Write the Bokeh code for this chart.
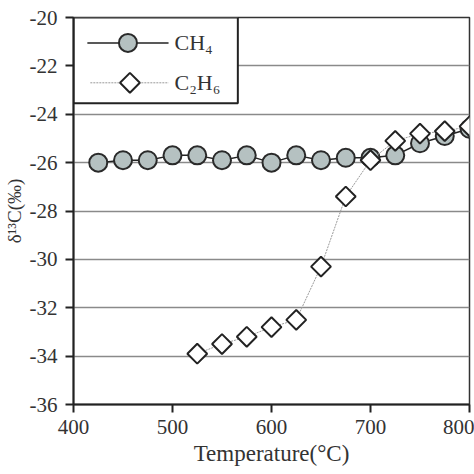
import numpy as np
from bokeh.plotting import figure
from bokeh.models import Range1d, FixedTicker, PrintfTickFormatter, BoxAnnotation, Label
from bokeh.embed import file_html
from bokeh.resources import INLINE

# values
temp_ch4 = [425, 450, 475, 500, 525, 550, 575, 600, 625, 650, 675, 700, 725, 750, 775, 800]
d13c_ch4 = [-26.0, -25.9, -25.9, -25.7, -25.7, -25.9, -25.7, -26.0, -25.7, -25.9, -25.8, -25.8, -25.7, -25.2, -24.9, -24.6]

temp_c2h6 = [525, 550, 575, 600, 625, 650, 675, 700, 725, 750, 775, 800]
d13c_c2h6 = [-33.9, -33.5, -33.2, -32.8, -32.5, -30.3, -27.4, -25.9, -25.1, -24.8, -24.7, -24.5]

x_ticks = [400, 500, 600, 700, 800]
y_ticks = [-36, -34, -32, -30, -28, -26, -24, -22, -20]
series_names = ["CH₄", "C₂H₆"]

FONT = "Liberation Serif"
CH4_STYLE = dict(marker="circle", size=18, fill_color="#b5c1c1", line_color="#2a2a2a", line_width=2)
C2H6_STYLE = dict(marker="square", angle=np.pi / 4, size=14, fill_color="white",
                  line_color="#222222", line_width=2)

p = figure(width=474, height=474, output_backend="svg", toolbar_location=None,
           x_range=Range1d(400, 800), y_range=Range1d(-36, -20),
           min_border_left=73, min_border_top=17, min_border_right=5, min_border_bottom=70)
p.background_fill_color = "white"
p.border_fill_color = "white"
p.outline_line_color = "#333333"
p.outline_line_width = 1.5

p.xgrid.grid_line_color = None
p.ygrid.grid_line_color = "#8a8a8a"
p.ygrid.grid_line_width = 1.5

p.xaxis.ticker = FixedTicker(ticks=x_ticks)
p.yaxis.ticker = FixedTicker(ticks=y_ticks)
p.yaxis.formatter = PrintfTickFormatter(format="%d")
for ax in (p.xaxis, p.yaxis):
    ax.axis_line_color = "#222222"
    ax.axis_line_width = 2
    ax.major_tick_line_color = "#222222"
    ax.major_tick_line_width = 2
    ax.major_tick_in = 0
    ax.major_tick_out = 8
    ax.minor_tick_line_color = None
    ax.major_label_text_font = FONT
    ax.major_label_text_font_size = "21px"
    ax.major_label_text_color = "#333333"
    ax.axis_label_text_font = FONT
    ax.axis_label_text_font_size = "23px"
    ax.axis_label_text_font_style = "normal"
    ax.axis_label_text_color = "#333333"

p.xaxis.axis_label = "Temperature(°C)"
p.xaxis.major_label_standoff = 7
p.xaxis.axis_label_standoff = 4
p.yaxis.axis_label = "δ¹³C(‰)"
p.yaxis.axis_label_text_font_size = "19px"
p.yaxis.major_label_standoff = 8
p.yaxis.axis_label_standoff = 2

# data series
p.line(temp_ch4, d13c_ch4, line_color="#222222", line_width=1.5)
p.scatter(temp_ch4, d13c_ch4, **CH4_STYLE)
p.line(temp_c2h6, d13c_c2h6, line_color="#999999", line_width=1, line_dash="2 1")
p.scatter(temp_c2h6, d13c_c2h6, **C2H6_STYLE)

# legend drawn by hand (bokeh's legend will not rotate the square into a diamond)
p.add_layout(BoxAnnotation(left=400, right=566, top=-20, bottom=-23.55, level="underlay",
                           fill_color="white", fill_alpha=1,
                           line_color="#222222", line_alpha=1, line_width=2))
row_y = [-21.05, -22.7]
p.line([414, 496], [row_y[0], row_y[0]], line_color="#222222", line_width=1.5)
p.scatter([455], [row_y[0]], **CH4_STYLE)
p.line([417, 496], [row_y[1], row_y[1]], line_color="#999999", line_width=1, line_dash="2 1")
p.scatter([457], [row_y[1]], **C2H6_STYLE)
for name, yy in zip(series_names, row_y):
    p.add_layout(Label(x=502, y=yy, text=name, text_baseline="middle", text_font=FONT,
                       text_font_size="22px", text_color="#333333"))

open("out.html", "w").write(file_html(p, INLINE))
